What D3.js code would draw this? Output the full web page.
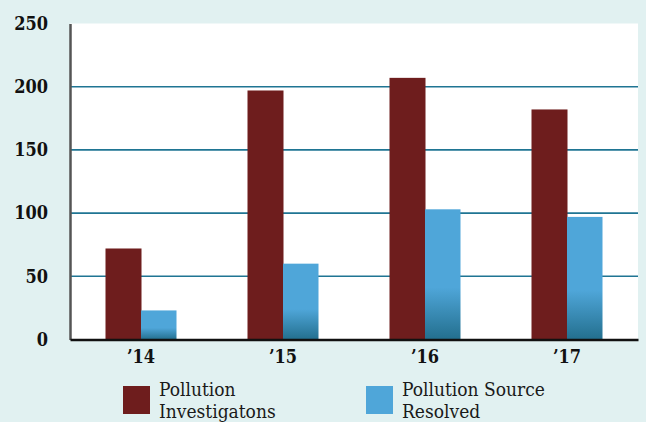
<!DOCTYPE html>
<html><head><meta charset="utf-8">
<script src="https://cdn.jsdelivr.net/npm/d3@7"></script>
<style>html,body{margin:0;padding:0;background:#e1f1f1;}svg{display:block;}</style>
</head><body>
<script>
const years = ["’14", "’15", "’16", "’17"];
const investigations = [72, 197, 207, 182];
const resolved = [23, 60, 103, 97];
const yTicks = [0, 50, 100, 150, 200, 250];
const seriesNames = ["Pollution Investigatons", "Pollution Source Resolved"];
const seriesLegendLines = [["Pollution", "Investigatons"], ["Pollution Source", "Resolved"]];

const W = 646, H = 422;
const m = {left: 70, right: 8, top: 23.5, bottom: 82.5};
const svg = d3.select("body").append("svg").attr("width", W).attr("height", H);
svg.append("rect").attr("width", W).attr("height", H).attr("fill", "#e1f1f1");

const defs = svg.append("defs");
const grad = defs.append("linearGradient").attr("id", "blueGrad")
  .attr("x1", 0).attr("y1", 0).attr("x2", 0).attr("y2", 1);
grad.append("stop").attr("offset", "0.6").attr("stop-color", "#4fa6d9");
grad.append("stop").attr("offset", "1").attr("stop-color", "#236f8e");

const x = d3.scaleBand().domain(years).range([m.left, W - m.right]).paddingInner(0.5).paddingOuter(0.25);
const x1 = d3.scaleBand().domain([0, 1]).range([0, x.bandwidth()]);
const y = d3.scaleLinear().domain([0, 250]).range([H - m.bottom, m.top]);

svg.append("rect").attr("x", m.left).attr("y", y(250)).attr("width", W - m.right - m.left)
  .attr("height", y(0) - y(250)).attr("fill", "#ffffff");

const font = "'DejaVu Serif Condensed', 'DejaVu Serif', serif";
// gridlines
svg.append("g").selectAll("line").data(yTicks.filter(d => d > 0 && d < 250)).join("line")
  .attr("x1", m.left).attr("x2", W - m.right)
  .attr("y1", d => y(d)).attr("y2", d => y(d))
  .attr("stroke", "#1f7593").attr("stroke-width", 1.6);

const colors = ["#6e1d1d", "url(#blueGrad)"];
const series = [investigations, resolved];
series.forEach((vals, si) => {
  svg.append("g").selectAll("rect").data(vals).join("rect")
    .attr("x", (d, i) => x(years[i]) + x1(si))
    .attr("width", x1.bandwidth() + (si === 0 ? 0.5 : 0))
    .attr("y", d => y(d)).attr("height", d => y(0) - y(d))
    .attr("fill", colors[si]);
});

// axes
const yAxis = svg.append("g").attr("transform", `translate(${m.left},0)`)
  .call(d3.axisLeft(y).tickValues(yTicks).tickSize(0).tickPadding(22));
yAxis.select(".domain").attr("stroke", "#555").attr("stroke-width", 2.5);
yAxis.selectAll("text").attr("font-family", font).attr("font-stretch", "condensed").attr("font-weight", "bold")
  .attr("font-size", 18).attr("fill", "#111");

const xAxis = svg.append("g").attr("transform", `translate(0,${y(0)})`)
  .call(d3.axisBottom(x).tickSize(0).tickPadding(11));
xAxis.select(".domain").attr("stroke", "#111").attr("stroke-width", 2.5);
xAxis.selectAll("text").attr("font-family", font).attr("font-stretch", "condensed").attr("font-weight", "bold")
  .attr("font-size", 18).attr("fill", "#111");

// legend
const legColors = ["#6e1d1d", "#4fa6d9"];
const legX = [123, 366];
seriesNames.forEach((n, i) => {
  const g = svg.append("g").attr("transform", `translate(${legX[i]},386)`);
  g.append("rect").attr("width", 27).attr("height", 28).attr("fill", legColors[i]);
  seriesLegendLines[i].forEach((ln, j) => {
    g.append("text").attr("x", 36).attr("y", 10 + j * 22).attr("font-family", font)
      .attr("font-stretch", "condensed").attr("font-size", 19).attr("fill", "#1a1a1a").text(ln);
  });
});
</script>
</body></html>
